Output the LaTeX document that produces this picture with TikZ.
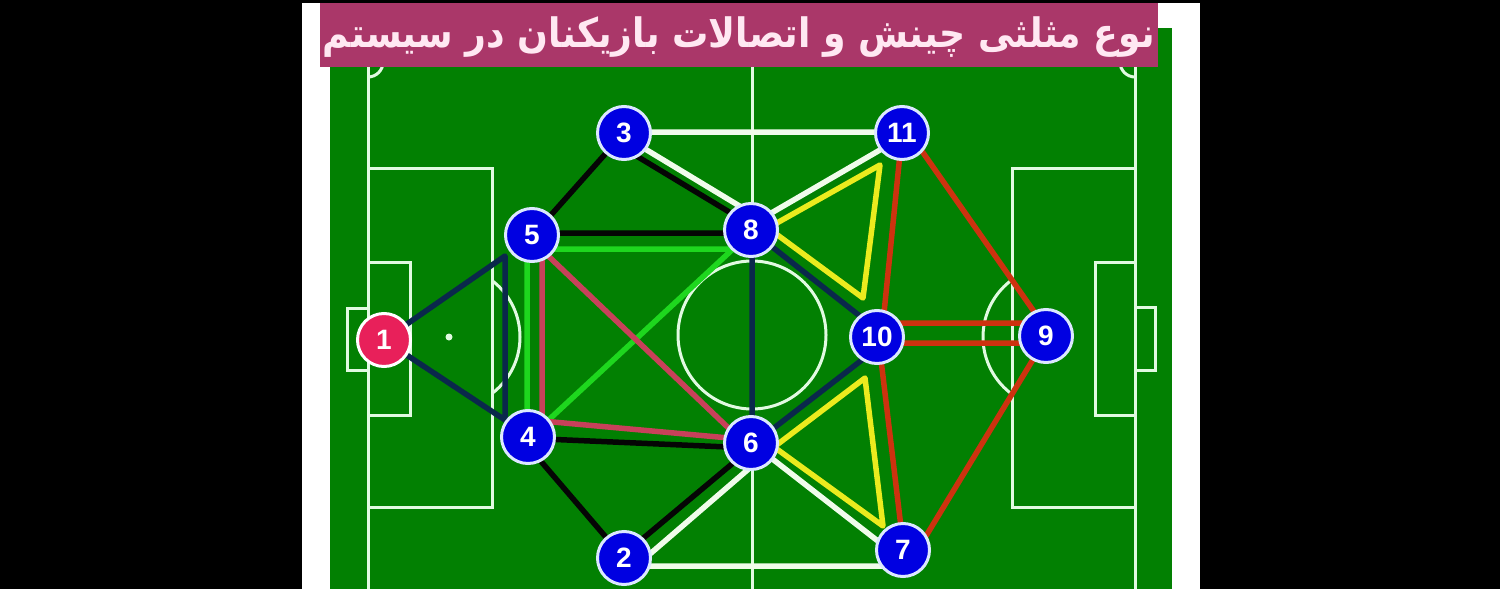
\documentclass[tikz,border=0pt]{standalone}
\usepackage{fontspec}
\usepackage{graphicx}
\setmainfont{Liberation Sans}
\newfontfamily\farsifont[Script=Arabic]{DejaVu Sans}
\TeXXeTstate=1
\usetikzlibrary{calc}
\pgfdeclarelayer{pitch}
\pgfdeclarelayer{lines}
\pgfsetlayers{pitch,lines,main}
\definecolor{grass}{RGB}{2,128,2}
\definecolor{chalk}{RGB}{225,250,225}
\definecolor{banner}{RGB}{170,55,105}
\definecolor{titletext}{RGB}{255,232,242}
\definecolor{shirt}{RGB}{0,0,225}
\definecolor{keeper}{RGB}{232,32,90}
\definecolor{rim}{RGB}{220,232,255}
\definecolor{navyline}{RGB}{10,40,75}
\definecolor{blackline}{RGB}{5,5,5}
\definecolor{greenline}{RGB}{30,215,30}
\definecolor{roseline}{RGB}{200,65,90}
\definecolor{yellowline}{RGB}{235,235,30}
\definecolor{redline}{RGB}{205,50,15}
\definecolor{whiteline}{RGB}{240,252,235}

\begin{document}
\begin{tikzpicture}[
    x=1pt, y=-1pt,
    player/.style={circle, fill=shirt, draw=rim, line width=3pt,
      minimum size=53pt, inner sep=0pt, text=white,
      font=\fontsize{28}{28}\selectfont\bfseries},
    marking/.style={draw=chalk, line width=3pt},
    link/.style={line width=5.5pt, line join=round, line cap=round}
  ]
  \useasboundingbox (0,0) rectangle (1500,589);

  % players
  \node[player, fill=keeper, draw=white] (n1) at (384,340) {1};
  \node[player] (n2) at (624,558) {2};
  \node[player] (n3) at (624,133) {3};
  \node[player] (n4) at (528,437) {4};
  \node[player] (n5) at (532,235) {5};
  \node[player] (n6) at (751,443) {6};
  \node[player] (n7) at (903,550) {7};
  \node[player] (n8) at (751,230) {8};
  \node[player] (n9) at (1046,336) {9};
  \node[player] (n10) at (877,337) {10};
  \node[player] (n11) at (902,133) {11};

  % title
  \fill[banner] (320,3) rectangle (1158,67);
  \node[anchor=base, text=titletext, inner sep=0pt] (title) at (739,48)
    {\scalebox{1}[1.12]{\resizebox{832pt}{!}{\farsifont\bfseries\beginR نوع مثلثی چینش و اتصالات بازیکنان در سیستم\endR}}};

  % triangles of players
  \begin{pgfonlayer}{lines}
    \draw[link, navyline] (n1.center) -- ($(n5)+(-27,21)$) -- ($(n4)+(-23,-17)$) -- cycle;
    \draw[link, greenline] ($(n5)+(-5,14)$) -- ($(n8)+(-18,19)$) -- ($(n4)+(-1,3)$) -- cycle;
    \draw[link, roseline] ($(n5)+(10,15)$) -- ($(n6)+(-11,-4)$) -- ($(n4)+(14,-16)$) -- cycle;
    \draw[link, blackline] ($(n3)+(-9,10)$) -- ($(n5)+(3,-2)$) -- ($(n8)+(13,3)$) -- cycle;
    \draw[link, whiteline] ($(n3)+(-7,-1)$) -- ($(n8)+(10,-11)$) -- ($(n11)+(9,-1)$) -- cycle;
    \draw[link, blackline] ($(n4)+(-7,1)$) -- ($(n2)+(-2,-2)$) -- ($(n6)+(0,5)$) -- cycle;
    \draw[link, whiteline] ($(n2)+(12,8)$) -- ($(n6)+(15,11)$) -- ($(n7)+(7,16)$) -- cycle;
    \draw[link, navyline] ($(n8)+(1,1)$) -- ($(n6)+(1,2)$) -- ($(n10)+(12,2)$) -- cycle;
    \draw[link, yellowline] ($(n8)+(17,-2)$) -- ($(n11)+(-22,32)$) -- ($(n10)+(-14,-39)$) -- cycle;
    \draw[link, yellowline] ($(n6)+(23,4)$) -- ($(n10)+(-12,41)$) -- ($(n7)+(-20,-24)$) -- cycle;
    \draw[link, redline] ($(n11)+(1,-9)$) -- ($(n10)+(6,-14)$) -- ($(n9)+(-4,-13)$) -- cycle;
    \draw[link, redline] ($(n10)+(2,6)$) -- ($(n9)+(-3,7)$) -- ($(n7)+(3,19)$) -- cycle;
  \end{pgfonlayer}

  % pitch
  \begin{pgfonlayer}{pitch}
    \fill[black] (0,0) rectangle (1500,589);
    \fill[white] (302,3) rectangle (1200,589);
    \fill[grass] (330,28) rectangle (1172,589);
    \draw[marking] (368,62) -- (368,589);
    \draw[marking] (1135,62) -- (1135,589);
    \draw[marking] (752,62) -- (752,589);
    \draw[marking] (752,335) circle (74);
    \draw[marking] (368,168) rectangle (492,507);
    \draw[marking] (368,262) rectangle (410,415);
    \draw[marking] (347,308) rectangle (368,370);
    \draw[marking] (1012,168) rectangle (1135,507);
    \draw[marking] (1095,262) rectangle (1135,415);
    \draw[marking] (1135,307) rectangle (1155,370);
    \fill[chalk] (449,337) circle (3.5);
    \begin{scope}
      \clip (492,0) rectangle (700,589);
      \draw[marking] (449,337) circle (71);
    \end{scope}
    \begin{scope}
      \clip (800,0) rectangle (1012,589);
      \draw[marking] (1054,337) circle (71);
    \end{scope}
    \begin{scope}
      \clip (368,62) rectangle (420,120);
      \draw[marking] (368,62) circle (15);
    \end{scope}
    \begin{scope}
      \clip (1080,62) rectangle (1135,120);
      \draw[marking] (1135,62) circle (15);
    \end{scope}
  \end{pgfonlayer}
\end{tikzpicture}
\end{document}
